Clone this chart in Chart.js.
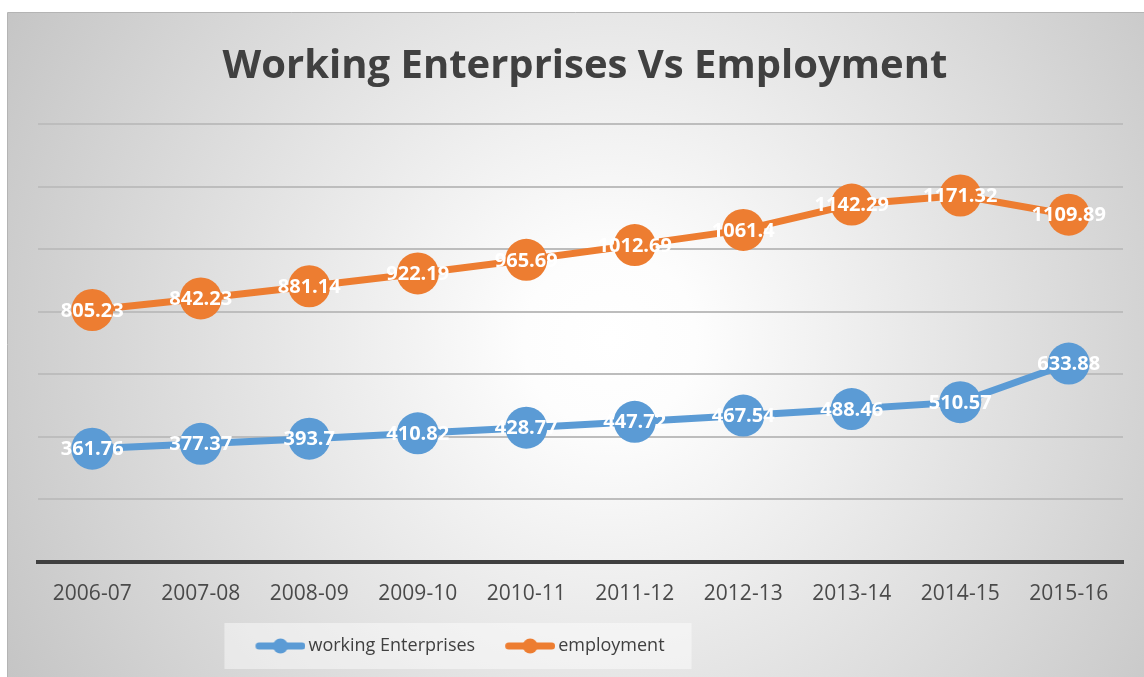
<!DOCTYPE html>
<html>
<head>
<meta charset="utf-8">
<title>Working Enterprises Vs Employment</title>
<script src="https://cdn.jsdelivr.net/npm/chart.js@4"></script>
<style>
    html, body { margin: 0; padding: 0; background: #fff; }
    canvas { display: block; }
</style>
</head>
<body>
<canvas id="myChart" width="1144" height="677"></canvas>
<script>
const categories = ['2006-07', '2007-08', '2008-09', '2009-10', '2010-11', '2011-12', '2012-13', '2013-14', '2014-15', '2015-16'];
const workingEnterprises = [361.76, 377.37, 393.7, 410.82, 428.77, 447.72, 467.54, 488.46, 510.57, 633.88];
const employment = [805.23, 842.23, 881.14, 922.19, 965.69, 1012.69, 1061.4, 1142.29, 1171.32, 1109.89];
const yMin = 0;
const yMax = 1400;
const yStep = 200;

const blue = '#5B9BD5';
const orange = '#ED7D31';
const fontFamily = '"Open Sans", "Noto Sans", sans-serif';

// where the legend row sits (centre of its items)
const legendCenterX = 451;
const legendCenterY = 645;

// line-with-dot swatch; the line sits at the right end of the image so it
// ends just before the label text
function legendSwatch(color) {
    const c = document.createElement('canvas');
    c.width = 74;
    c.height = 16;
    const g = c.getContext('2d');
    g.strokeStyle = color;
    g.lineWidth = 7;
    g.lineCap = 'round';
    g.beginPath();
    g.moveTo(27.5, 8);
    g.lineTo(70.5, 8);
    g.stroke();
    g.fillStyle = color;
    g.beginPath();
    g.arc(49, 8, 7.5, 0, Math.PI * 2);
    g.fill();
    return c;
}

// move the legend off-centre, under the left half of the plot
const legendPlacement = {
    id: 'legendPlacement',
    afterLayout(chart) {
        const lg = chart.legend;
        if (!lg) return;
        const dx = legendCenterX - (lg.left + lg.right) / 2;
        const dy = legendCenterY - (lg.top + lg.height / 2);
        lg.left += dx;
        lg.right += dx;
        lg.top += dy;
        lg.bottom += dy;
    }
};

// gray radial panel behind everything, plus the pale strip behind the legend
const panelBackground = {
    id: 'panelBackground',
    beforeDraw(chart) {
        const ctx = chart.ctx;
        ctx.save();
        ctx.fillStyle = '#fff';
        ctx.fillRect(0, 0, chart.width, chart.height);
        const grad = ctx.createRadialGradient(610, 340, 0, 610, 340, 720);
        grad.addColorStop(0, '#ffffff');
        grad.addColorStop(0.12, '#fdfdfd');
        grad.addColorStop(1, '#c2c2c2');
        ctx.fillStyle = grad;
        ctx.fillRect(8, 12, chart.width, chart.height);
        ctx.strokeStyle = '#b4b4b4';
        ctx.lineWidth = 1;
        ctx.beginPath();
        ctx.moveTo(7.5, chart.height);
        ctx.lineTo(7.5, 12.5);
        ctx.lineTo(chart.width, 12.5);
        ctx.stroke();

        const boxes = chart.legend && chart.legend.legendHitBoxes;
        if (boxes && boxes.length) {
            const left = Math.min(...boxes.map(b => b.left));
            const right = Math.max(...boxes.map(b => b.left + b.width));
            const mid = boxes[0].top + boxes[0].height / 2;
            ctx.fillStyle = 'rgba(255, 255, 255, 0.45)';
            ctx.fillRect(left - 13, mid - 23, right - left + 40, 46);
        }
        ctx.restore();
    }
};

// white value labels centred on each marker
const valueLabels = {
    id: 'valueLabels',
    afterDatasetsDraw(chart) {
        const ctx = chart.ctx;
        ctx.save();
        ctx.font = 'bold 20px ' + fontFamily;
        ctx.fillStyle = '#ffffff';
        ctx.textAlign = 'center';
        ctx.textBaseline = 'middle';
        chart.data.datasets.forEach((ds, i) => {
            const meta = chart.getDatasetMeta(i);
            meta.data.forEach((pt, j) => {
                ctx.fillText(String(ds.data[j]), pt.x, pt.y + 1);
            });
        });
        ctx.restore();
    }
};

const ctx = document.getElementById('myChart').getContext('2d');
const myChart = new Chart(ctx, {
    type: 'line',
    data: {
        labels: categories,
        datasets: [{
            label: 'working Enterprises',
            data: workingEnterprises,
            borderColor: blue,
            backgroundColor: blue,
            borderWidth: 7,
            pointRadius: 21,
            pointHoverRadius: 21,
            pointBorderWidth: 0,
            pointBackgroundColor: blue,
            tension: 0,
            fill: false
        }, {
            label: 'employment',
            data: employment,
            borderColor: orange,
            backgroundColor: orange,
            borderWidth: 7,
            pointRadius: 21,
            pointHoverRadius: 21,
            pointBorderWidth: 0,
            pointBackgroundColor: orange,
            tension: 0,
            fill: false
        }]
    },
    options: {
        responsive: false,
        animation: false,
        devicePixelRatio: 1,
        layout: {
            padding: { left: 38, right: 12, top: 0, bottom: 10 }
        },
        scales: {
            x: {
                offset: true,
                grid: { display: false, drawTicks: false },
                border: { display: true, color: '#404040', width: 4 },
                ticks: {
                    color: '#4a4a4a',
                    font: { family: fontFamily, size: 21 },
                    padding: 20,
                    maxRotation: 0
                }
            },
            y: {
                min: yMin,
                max: yMax,
                ticks: { stepSize: yStep, display: false },
                grid: { color: '#bdbdbd', lineWidth: 2, drawTicks: false },
                border: { display: false }
            }
        },
        plugins: {
            title: {
                display: true,
                text: 'Working Enterprises Vs Employment',
                color: '#404040',
                font: { family: fontFamily, size: 40, weight: 'bold' },
                padding: { top: 43, bottom: 33 }
            },
            legend: {
                position: 'bottom',
                labels: {
                    color: '#404040',
                    font: { family: fontFamily, size: 18 },
                    usePointStyle: true,
                    pointStyleWidth: 62,
                    padding: 12,
                    generateLabels(chart) {
                        return chart.data.datasets.map((ds, i) => ({
                            text: ds.label,
                            fillStyle: ds.borderColor,
                            strokeStyle: ds.borderColor,
                            fontColor: '#404040',
                            pointStyle: legendSwatch(ds.borderColor),
                            lineWidth: 0,
                            hidden: false,
                            datasetIndex: i
                        }));
                    }
                }
            },
            tooltip: { enabled: false }
        }
    },
    plugins: [legendPlacement, panelBackground, valueLabels]
});
</script>
</body>
</html>
